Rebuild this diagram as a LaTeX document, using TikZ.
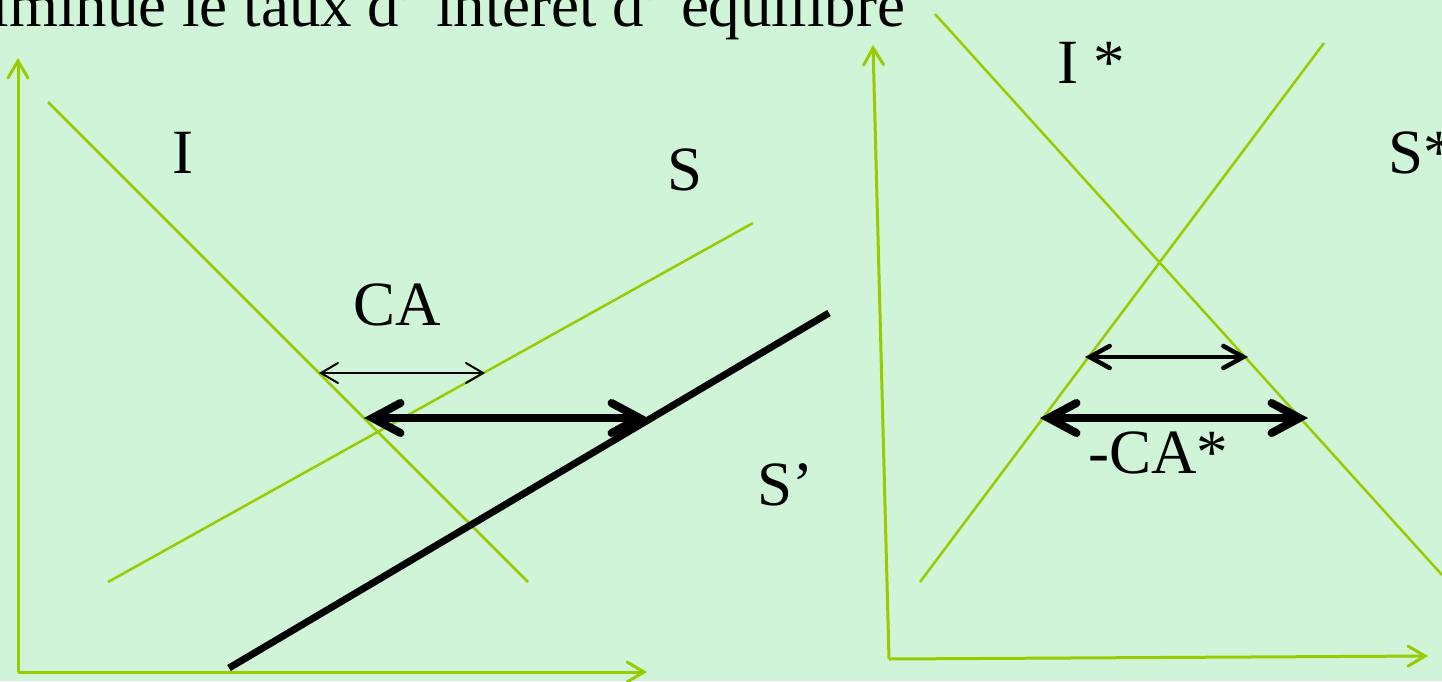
\documentclass[tikz,border=0pt]{standalone}
\usepackage{fontspec}
\setmainfont{Liberation Serif}
\usetikzlibrary{arrows.meta}
\definecolor{bgc}{RGB}{208,244,216}
\definecolor{lgreen}{RGB}{153,204,0}
\tikzset{
  lbl/.style={font=\fontsize{63}{70}\selectfont, inner sep=0pt, text=black},
  axis/.style={draw=lgreen, line width=3pt, -{Straight Barb[length=17pt,width=20pt,line cap=round]}},
  curve/.style={draw=lgreen, line width=2.5pt},
  thinarr/.style={draw=black, line width=2pt, {Straight Barb[length=17pt,width=20pt,line cap=round]}-{Straight Barb[length=17pt,width=20pt,line cap=round]}},
  medarr/.style={draw=black, line width=4.5pt, line cap=round, {Straight Barb[length=20pt,width=22pt,line cap=round]}-{Straight Barb[length=20pt,width=22pt,line cap=round]}},
  thickarr/.style={draw=black, line width=8pt, line cap=round, {Straight Barb[length=28pt,width=30pt,line cap=round]}-{Straight Barb[length=28pt,width=30pt,line cap=round]}}
}
\begin{document}
\begin{tikzpicture}[x=1pt,y=-1pt]
\useasboundingbox (0,0) rectangle (1442,681);
\clip (0,0) rectangle (1442,681);
\fill[bgc] (0,0) rectangle (1442,681);
% top text
\node[lbl, anchor=base east] (title) at (905,26) {diminue le taux d’ intérêt d’ équilibre};
% left panel
\coordinate (lo) at (18,672);
\coordinate (ly) at (18,58);
\coordinate (lx) at (647,672);
\draw[axis] (lo) -- (ly);
\draw[axis] (lo) -- (lx);
\coordinate (ia) at (48,102);
\coordinate (ib) at (528,582);
\coordinate (sa) at (108,582);
\coordinate (sb) at (753,223);
\coordinate (spa) at (229,668);
\coordinate (spb) at (829,313);
\draw[curve] (ia) -- (ib);
\draw[curve] (sa) -- (sb);
\draw[black, line width=7pt] (spa) -- (spb);
\coordinate (ca1) at (319,373);
\coordinate (ca2) at (485,373);
\draw[thinarr] (ca1) -- (ca2);
\coordinate (cb1) at (364,418);
\coordinate (cb2) at (648,418);
\draw[thickarr] (cb1) -- (cb2);
\node[lbl, anchor=base] (li) at (183,173) {I};
\node[lbl, anchor=base] (ls) at (685,190) {S};
\node[lbl, anchor=base] (lca) at (397,325) {CA};
\node[lbl, anchor=base west] (lsp) at (757,505) {S’};
% right panel
\coordinate (ro) at (889,659);
\coordinate (ry) at (873,45);
\coordinate (rx) at (1428,656);
\draw[axis] (ro) -- (ry);
\draw[axis] (ro) -- (rx);
\coordinate (isa) at (935,14);
\coordinate (isb) at (1442,575);
\coordinate (ssa) at (920,582);
\coordinate (ssb) at (1324,43);
\draw[curve] (isa) -- (isb);
\draw[curve] (ssa) -- (ssb);
\coordinate (r11) at (1085,357);
\coordinate (r12) at (1248,357);
\draw[medarr] (r11) -- (r12);
\coordinate (r21) at (1040,418);
\coordinate (r22) at (1308,418);
\draw[thickarr] (r21) -- (r22);
\node[lbl, anchor=base west] (listar) at (1057,83) {I *};
\node[lbl, anchor=base west] (lsstar) at (1388,173) {S*};
\node[lbl, anchor=base west] (lcastar) at (1088,473) {-CA*};
\end{tikzpicture}
\end{document}
